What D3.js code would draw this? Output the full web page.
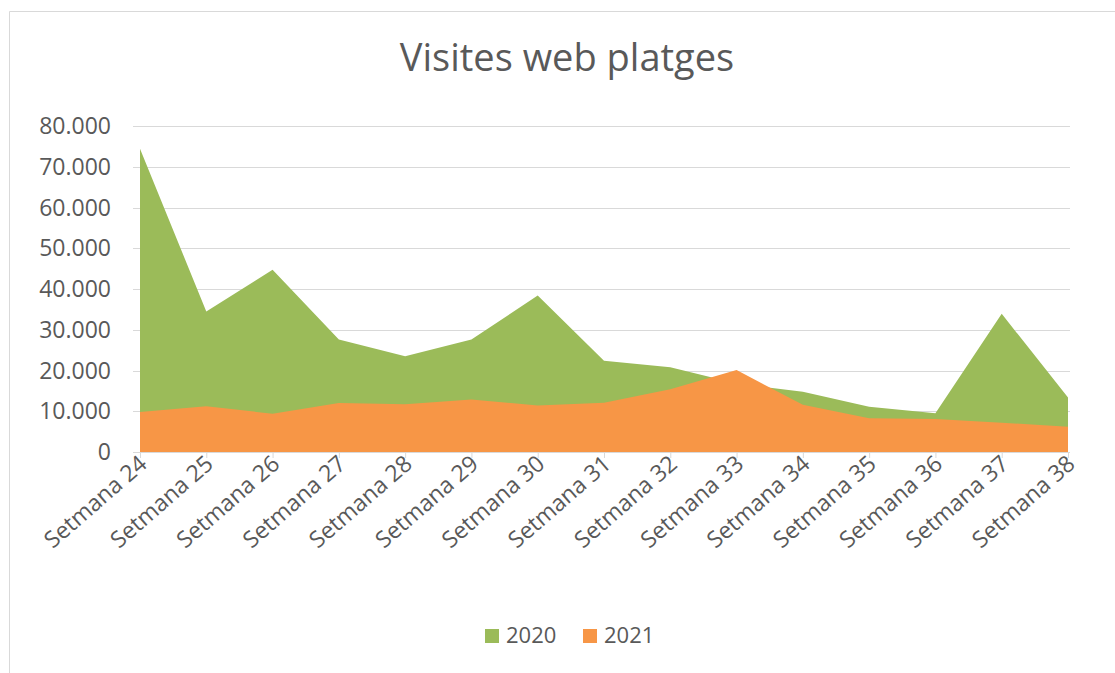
<!DOCTYPE html>
<html>
<head>
<meta charset="utf-8">
<script src="https://cdn.jsdelivr.net/npm/d3@7"></script>
<style>
  body { margin: 0; background: #fff; }
  text { font-family: "Open Sans", sans-serif; fill: #595959; }
</style>
</head>
<body>
<script>
// weeks on the x axis
const weeks = ['Setmana 24', 'Setmana 25', 'Setmana 26', 'Setmana 27', 'Setmana 28',
  'Setmana 29', 'Setmana 30', 'Setmana 31', 'Setmana 32', 'Setmana 33',
  'Setmana 34', 'Setmana 35', 'Setmana 36', 'Setmana 37', 'Setmana 38'];

// visits per year
const v2020 = [74400, 34500, 44700, 27600, 23500, 27600, 38400, 22400, 20800, 16800, 14800, 11100, 9500, 33900, 13400];
const v2021 = [9800, 11200, 9400, 12000, 11700, 12900, 11400, 12100, 15400, 20100, 11600, 8300, 8100, 7200, 6200];

const yTicks = [0, 10000, 20000, 30000, 40000, 50000, 60000, 70000, 80000];
const seriesNames = ['2020', '2021'];

const width = 1115;
const height = 673;
const colors = { '2020': '#9bbb59', '2021': '#f79646' };

const svg = d3.select('body')
  .append('svg')
  .attr('width', width)
  .attr('height', height);

// chart frame (only top and left edges show in the picture)
svg.append('path')
  .attr('d', 'M9.5,673 V11.5 H1115')
  .attr('fill', 'none')
  .attr('stroke', '#d9d9d9');

const x = d3.scalePoint().domain(weeks).range([140, 1068]);
const y = d3.scaleLinear().domain([0, 80000]).range([452, 126]);

// title
svg.append('text')
  .attr('x', 567)
  .attr('y', 71)
  .attr('text-anchor', 'middle')
  .style('font-size', '38px')
  .text('Visites web platges');

// gridlines
svg.selectAll('.grid')
  .data(yTicks)
  .enter()
  .append('line')
  .attr('x1', 133)
  .attr('x2', 1070)
  .attr('y1', d => Math.round(y(d)) + 0.5)
  .attr('y2', d => Math.round(y(d)) + 0.5)
  .attr('stroke', '#d9d9d9');

// y labels
svg.selectAll('.ylab')
  .data(yTicks)
  .enter()
  .append('text')
  .attr('x', 111)
  .attr('y', d => y(d) + 8)
  .attr('text-anchor', 'end')
  .style('font-size', '23px')
  .text(d => d3.format(',')(d).replace(/,/g, '.'));

// areas, 2020 behind 2021
const area = d3.area()
  .x((d, i) => x(weeks[i]))
  .y0(y(0))
  .y1(d => y(d));

svg.append('path')
  .attr('d', area(v2020))
  .attr('fill', colors['2020']);

svg.append('path')
  .attr('d', area(v2021))
  .attr('fill', colors['2021']);

// x axis
const xAxis = svg.append('g')
  .attr('transform', 'translate(0,452)')
  .call(d3.axisBottom(x).tickSize(6).tickSizeOuter(0));

xAxis.select('.domain').attr('stroke', '#d9d9d9');
xAxis.selectAll('.tick line').attr('stroke', '#d9d9d9');
xAxis.selectAll('.tick text')
  .attr('fill', '#666')
  .style('font-size', '23px')
  .style('font-family', '"Open Sans", sans-serif')
  .attr('text-anchor', 'end')
  .attr('dy', null)
  .attr('y', 0)
  .attr('transform', 'translate(8,14) rotate(-41)');

// legend
const legend = svg.selectAll('.legend')
  .data(seriesNames)
  .enter()
  .append('g')
  .attr('transform', (d, i) => `translate(${485 + i * 98},629)`);

legend.append('rect')
  .attr('width', 14)
  .attr('height', 14)
  .attr('fill', d => colors[d]);

legend.append('text')
  .attr('x', 21)
  .attr('y', 14)
  .style('font-size', '22px')
  .text(d => d);
</script>
</body>
</html>
